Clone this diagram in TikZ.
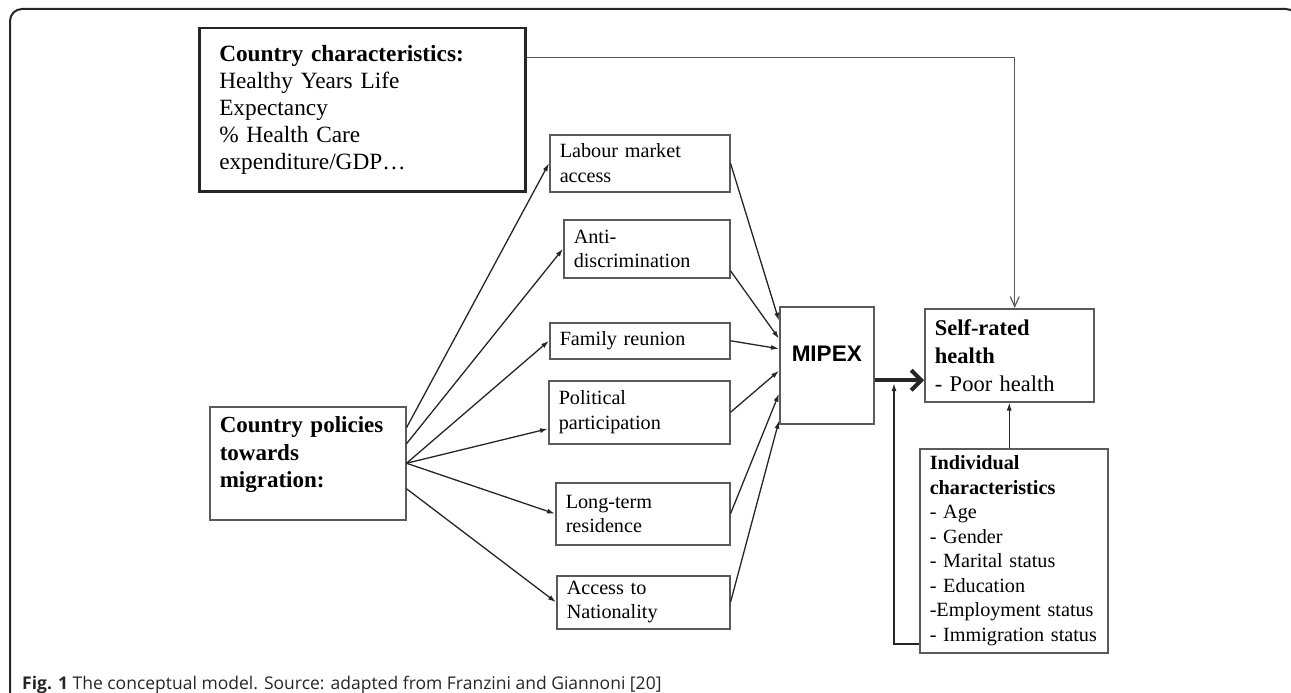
\documentclass[tikz,border=0pt]{standalone}
\usepackage{fontspec}
\setmainfont{Liberation Serif}
\newfontfamily\arialfont{Liberation Sans}
\newfontfamily\capfont{Open Sans}
\usetikzlibrary{arrows.meta}

\definecolor{c1}{HTML}{5A5A5A}
\definecolor{c2}{HTML}{262626}

\tikzstyle{b1} = [draw=c1, line width=1.5pt, inner xsep=10pt, inner ysep=0pt, align=left, anchor=north west, font=\fontsize{20.2pt}{24.5pt}\selectfont]
\tikzstyle{a1} = [draw=c2, line width=1.3pt, -{Latex[length=8pt,width=5pt]}]
\tikzstyle{a2} = [draw=c1, line width=1.2pt, -{Straight Barb[length=10pt,width=9pt]}]
\tikzstyle{a3} = [draw=c2, line width=4pt, -{Straight Barb[length=10pt,width=20pt]}]

\begin{document}
\begin{tikzpicture}[x=1pt, y=-1pt]
    \clip (0,0) rectangle (1291,693);
    \draw[line width=2pt, c2, rounded corners=12pt] (10,9) rectangle (1298,720);

    \node[b1, draw=c2, line width=2.5pt, text width=286pt, minimum height=163pt, inner xsep=20pt,
      font=\fontsize{23.3pt}{27pt}\selectfont] (cc) at (198,27)
      {\textbf{Country characteristics:}\\Healthy Years Life\\Expectancy\\\% Health Care\\expenditure/GDP…};
    \node[b1, text width=176pt, minimum height=113pt, font=\bfseries\fontsize{23pt}{27.5pt}\selectfont] (cp) at (209,406)
      {Country policies\\towards\\migration:\\[-6pt]\mbox{}};

    \node[b1, text width=160pt, minimum height=57pt] (lab) at (549,134) {Labour market\\access};
    \node[b1, text width=146pt, minimum height=58pt] (anti) at (563,219) {Anti-\\discrimination};
    \node[b1, text width=160pt, minimum height=36pt] (fam) at (549,322) {Family reunion};
    \node[b1, text width=161pt, minimum height=63pt] (pol) at (548,380) {Political\\participation};
    \node[b1, text width=154pt, minimum height=62pt] (ltr) at (555,482) {Long-term\\residence};
    \node[b1, text width=153pt, minimum height=53pt] (nat) at (556,575) {Access to\\Nationality};

    \node[draw=c1, line width=1.5pt, anchor=north west, minimum width=94pt, minimum height=117pt, inner sep=0pt,
      text height=16pt, text depth=23pt, font=\arialfont\bfseries\fontsize{22.5pt}{27pt}\selectfont] (mipex) at (779,306) {MIPEX};

    \node[b1, text width=149pt, minimum height=93pt, font=\fontsize{22.5pt}{28pt}\selectfont] (srh) at (924,308)
      {\textbf{Self-rated}\\\textbf{health}\\- Poor health};
    \node[b1, text width=168pt, minimum height=204pt] (ind) at (919,448)
      {\textbf{Individual}\\\textbf{characteristics}\\- Age\\- Gender\\- Marital status\\- Education\\-Employment status\\- Immigration status};

    \node[anchor=base west, inner sep=0pt, text=c2, font=\capfont\fontsize{17.5pt}{20pt}\selectfont] (cap) at (22,689)
      {\textbf{Fig. 1} The conceptual model. Source: adapted from Franzini and Giannoni [20]};

    % policies
    \draw[a1] ([yshift=35.5pt]cp.east) -- (lab.west);
    \draw[a1] ([yshift=19.5pt]cp.east) -- (anti.west);
    \draw[a1] (cp.east) -- (fam.west);
    \draw[a1] (cp.east) -- ([yshift=-16.5pt]pol.west);
    \draw[a1] (cp.east) -- (ltr.west);
    \draw[a1] ([yshift=-25.5pt]cp.east) -- (nat.west);

    % into MIPEX
    \draw[a1] (lab.east) -- ([yshift=44.5pt]mipex.west);
    \draw[a1] ([yshift=-22pt]anti.east) -- ([yshift=26.5pt]mipex.west);
    \draw[a1] (fam.east) -- ([yshift=16.5pt]mipex.west);
    \draw[a1] (pol.east) -- ([yshift=-5.5pt]mipex.west);
    \draw[a1] (ltr.east) -- ([yshift=-28.5pt]mipex.west);
    \draw[a1] (nat.east) -- ([yshift=-55.5pt]mipex.west);

    % outcome
    \coordinate (m1) at ([yshift=-15pt]mipex.east);
    \draw[a3] (m1) -- (m1 -| srh.west);
    \coordinate (fb) at (894,383);
    \draw[a1, line width=1.5pt] ([yshift=-93pt]ind.west) -| (fb);
    \draw[a1] (ind.north -| srh.south) -- (srh.south);
    \draw[a2] ([yshift=52.5pt]cc.east) -| ([xshift=5.5pt]srh.north);
\end{tikzpicture}
\end{document}
